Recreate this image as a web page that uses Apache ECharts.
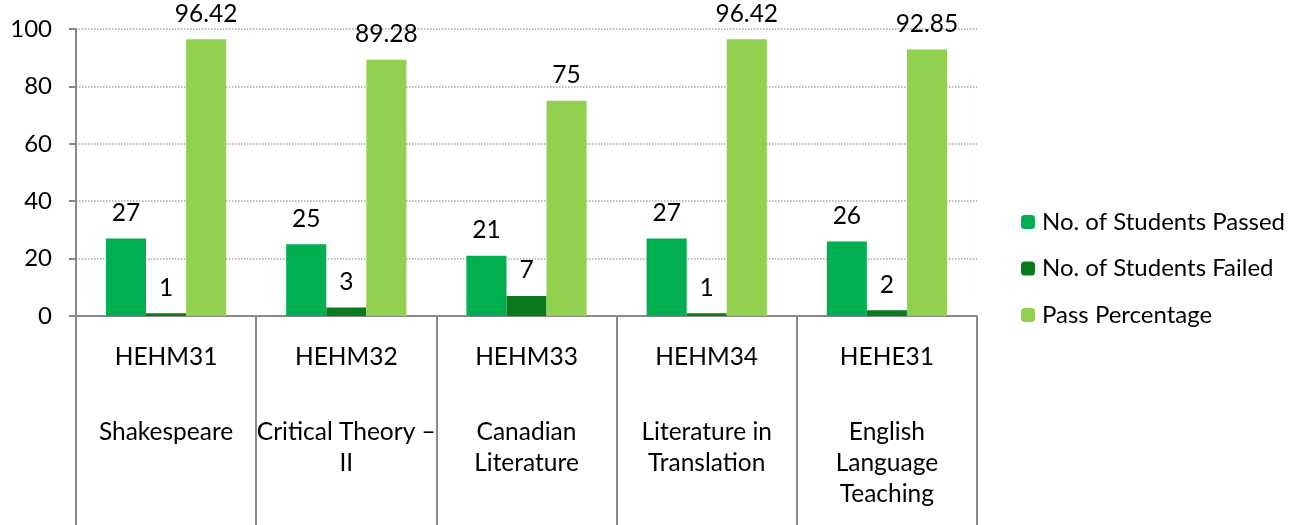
<!DOCTYPE html>
<html>
<head>
<meta charset="utf-8">
<script src="https://cdn.jsdelivr.net/npm/echarts@6/dist/echarts.min.js"></script>
<style>html,body{margin:0;padding:0;background:#fff;}#c{width:1300px;height:525px;}</style>
</head>
<body>
<div id="c"></div>
<script>
const codes = ['HEHM31', 'HEHM32', 'HEHM33', 'HEHM34', 'HEHE31'];
const names = ['Shakespeare', 'Critical Theory –\nII', 'Canadian\nLiterature', 'Literature in\nTranslation', 'English\nLanguage\nTeaching'];
const passed = [27, 25, 21, 27, 26];
const failed = [1, 3, 7, 1, 2];
const passPct = [96.42, 89.28, 75, 96.42, 92.85];
const seriesNames = ['No. of Students Passed', 'No. of Students Failed', 'Pass Percentage'];
const colors = ['#00B050', '#0B7A1E', '#92D050'];

const FONT = 'Lato';
const FS = 24.5;
const categories = codes.map((c, i) => c + '||' + names[i]);

const chart = echarts.init(document.getElementById('c'));
const lbl = { show: true, position: 'top', distance: 13, color: '#000', fontFamily: FONT, fontSize: FS };
chart.setOption({
  animation: false,
  textStyle: { fontFamily: FONT },
  grid: { left: 76, right: 323, top: 29, bottom: 209, containLabel: false },
  legend: {
    orient: 'vertical', left: 1016, top: 205,
    itemWidth: 14, itemHeight: 14, itemGap: 22.5,
    textStyle: { fontFamily: FONT, fontSize: 24, color: '#000', padding: [0, 0, 0, 2] },
    data: seriesNames
  },
  xAxis: {
    type: 'category', data: categories,
    axisLine: { lineStyle: { color: '#898989', width: 2 } },
    axisTick: { show: true, length: 209, interval: 0, lineStyle: { color: '#898989', width: 2 } },
    axisLabel: {
      interval: 0, margin: 21, color: '#000', fontFamily: FONT, fontSize: FS, verticalAlign: 'top',
      formatter: function (v) {
        const parts = v.split('||');
        const nameLines = parts[1].split('\n').map(s => '{n|' + s + '}').join('\n');
        return '{c|' + parts[0] + '}\n{b| }\n' + nameLines;
      },
      rich: {
        c: { fontFamily: FONT, fontSize: FS, lineHeight: 40, color: '#000' },
        b: { fontSize: 10, lineHeight: 39.5 },
        n: { fontFamily: FONT, fontSize: FS, lineHeight: 31, color: '#000' }
      }
    }
  },
  yAxis: {
    type: 'value', min: 0, max: 100, interval: 20,
    axisLine: { show: true, lineStyle: { color: '#898989', width: 2 } },
    axisTick: { show: true, length: 7, lineStyle: { color: '#898989', width: 2 } },
    axisLabel: { margin: 24, color: '#000', fontFamily: FONT, fontSize: 24 },
    splitLine: { show: true, lineStyle: { color: '#a6a6a6', type: 'dotted', width: 1.5 } }
  },
  series: [
    { name: seriesNames[0], type: 'bar', data: passed, barGap: '0%', barCategoryGap: '33.3%', itemStyle: { color: colors[0] }, label: lbl },
    { name: seriesNames[1], type: 'bar', data: failed, itemStyle: { color: colors[1] }, label: lbl },
    { name: seriesNames[2], type: 'bar', data: passPct, itemStyle: { color: colors[2] }, label: lbl }
  ]
});
</script>
</body>
</html>
